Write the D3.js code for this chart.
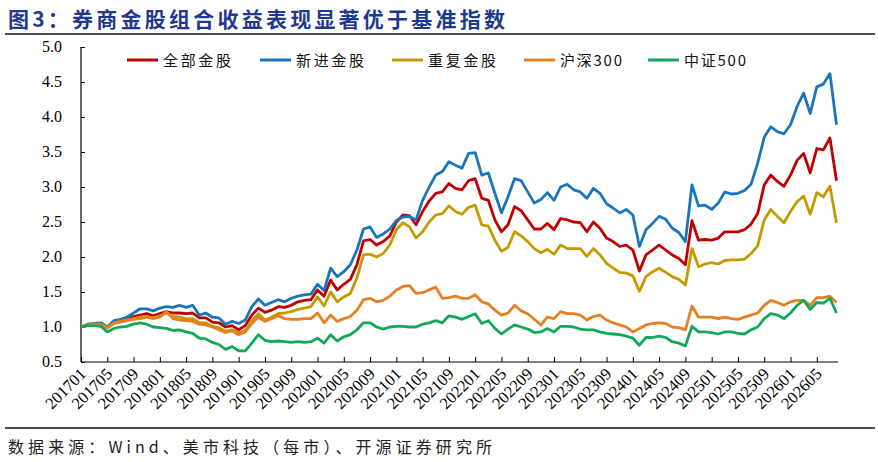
<!DOCTYPE html>
<html>
<head>
<meta charset="utf-8">
<script src="https://cdn.jsdelivr.net/npm/d3@7"></script>
<style>
  body { margin: 0; background: #fff; }
  svg { display: block; }
</style>
</head>
<body>
<div id="chart"></div>
<script>
// month labels 201701 .. 202608
const months = [];
for (let y = 2017; y <= 2026; y++) {
  for (let m = 1; m <= 12; m++) {
    if (y === 2026 && m > 8) break;
    months.push(y + String(m).padStart(2, "0"));
  }
}

const allPicks = [
  1.00,1.03,1.04,1.05,0.99,1.07,1.10,1.12,1.15,1.17,
  1.19,1.16,1.19,1.22,1.20,1.20,1.19,1.20,1.13,1.13,
  1.07,1.06,1.00,1.02,0.96,1.02,1.17,1.27,1.21,1.24,
  1.29,1.28,1.31,1.36,1.38,1.39,1.53,1.44,1.67,1.53,
  1.61,1.68,1.89,2.23,2.25,2.17,2.22,2.30,2.50,2.60,
  2.59,2.46,2.65,2.80,2.91,2.93,3.05,2.98,2.96,3.09,
  3.12,2.84,2.81,2.53,2.36,2.46,2.72,2.66,2.53,2.40,
  2.40,2.48,2.39,2.55,2.53,2.50,2.49,2.36,2.50,2.41,
  2.27,2.22,2.15,2.17,2.10,1.80,2.03,2.10,2.17,2.10,
  2.03,1.98,1.89,2.52,2.24,2.25,2.24,2.27,2.36,2.36,
  2.36,2.39,2.47,2.62,3.03,3.17,3.08,3.01,3.17,3.38,
  3.48,3.20,3.55,3.53,3.70,3.09
];

const newPicks = [
  1.00,1.04,1.05,1.06,1.00,1.09,1.11,1.14,1.20,1.26,
  1.26,1.23,1.27,1.29,1.28,1.31,1.28,1.31,1.17,1.20,
  1.14,1.13,1.04,1.08,1.05,1.10,1.29,1.40,1.31,1.35,
  1.39,1.36,1.41,1.44,1.46,1.47,1.61,1.52,1.84,1.72,
  1.79,1.89,2.10,2.40,2.43,2.28,2.33,2.40,2.52,2.57,
  2.58,2.53,2.81,3.00,3.17,3.22,3.36,3.31,3.27,3.48,
  3.49,3.17,3.20,2.91,2.63,2.86,3.12,3.09,2.93,2.77,
  2.82,2.92,2.81,3.00,3.04,2.96,2.93,2.84,2.98,2.91,
  2.76,2.70,2.63,2.68,2.60,2.15,2.39,2.48,2.58,2.54,
  2.41,2.35,2.22,3.03,2.73,2.74,2.68,2.77,2.93,2.90,
  2.91,2.95,3.04,3.34,3.71,3.86,3.79,3.76,3.89,4.15,
  4.34,4.05,4.43,4.47,4.62,3.89
];

const repeatPicks = [
  1.00,1.03,1.04,1.04,0.99,1.06,1.08,1.10,1.12,1.14,
  1.15,1.13,1.16,1.20,1.15,1.14,1.12,1.12,1.06,1.06,
  1.01,0.99,0.94,0.96,0.92,0.95,1.09,1.19,1.10,1.14,
  1.19,1.20,1.22,1.25,1.27,1.29,1.43,1.30,1.50,1.36,
  1.43,1.48,1.70,2.03,2.04,2.00,2.05,2.17,2.39,2.49,
  2.43,2.27,2.36,2.50,2.60,2.62,2.73,2.65,2.61,2.71,
  2.74,2.46,2.44,2.24,2.08,2.14,2.36,2.30,2.22,2.12,
  2.06,2.11,2.04,2.17,2.12,2.12,2.12,2.01,2.12,2.03,
  1.91,1.84,1.78,1.77,1.73,1.51,1.72,1.79,1.84,1.78,
  1.72,1.68,1.60,2.12,1.86,1.90,1.92,1.90,1.95,1.96,
  1.96,1.97,2.05,2.16,2.53,2.68,2.58,2.49,2.65,2.79,
  2.87,2.61,2.92,2.86,3.01,2.49
];

const hs300 = [
  1.00,1.02,1.03,1.03,0.99,1.05,1.07,1.09,1.11,1.12,
  1.14,1.12,1.14,1.22,1.12,1.10,1.09,1.08,1.04,1.03,
  1.00,0.96,0.92,0.95,0.89,0.93,1.05,1.14,1.08,1.12,
  1.16,1.12,1.11,1.11,1.12,1.12,1.20,1.06,1.17,1.08,
  1.12,1.15,1.24,1.39,1.41,1.36,1.38,1.44,1.53,1.58,
  1.59,1.48,1.49,1.53,1.57,1.41,1.42,1.44,1.41,1.41,
  1.46,1.36,1.33,1.24,1.17,1.20,1.31,1.23,1.19,1.11,
  1.03,1.14,1.12,1.22,1.19,1.19,1.17,1.10,1.15,1.17,
  1.10,1.06,1.03,1.00,0.93,0.98,1.03,1.05,1.06,1.05,
  1.00,0.99,0.96,1.30,1.14,1.14,1.14,1.12,1.14,1.12,
  1.11,1.14,1.17,1.20,1.31,1.38,1.35,1.31,1.36,1.38,
  1.38,1.31,1.42,1.42,1.44,1.35
];

const zz500 = [
  1.00,1.02,1.02,1.01,0.93,0.98,1.00,1.01,1.04,1.06,
  1.04,1.00,0.99,0.98,0.95,0.96,0.93,0.91,0.84,0.83,
  0.78,0.75,0.68,0.72,0.66,0.66,0.77,0.89,0.81,0.79,
  0.80,0.79,0.78,0.79,0.78,0.79,0.84,0.77,0.89,0.80,
  0.86,0.89,0.96,1.06,1.06,1.00,0.97,1.00,1.01,1.01,
  1.00,1.00,1.04,1.06,1.09,1.06,1.16,1.14,1.11,1.15,
  1.19,1.05,1.09,0.98,0.90,0.97,1.03,1.00,0.97,0.92,
  0.93,0.98,0.93,1.01,1.01,1.00,0.97,0.96,0.96,0.93,
  0.91,0.90,0.89,0.87,0.84,0.74,0.85,0.85,0.87,0.85,
  0.79,0.77,0.73,1.01,0.93,0.93,0.92,0.90,0.93,0.93,
  0.91,0.90,0.96,1.00,1.12,1.19,1.17,1.12,1.20,1.31,
  1.38,1.25,1.35,1.34,1.41,1.20
];

const seriesNames = ["全部金股", "新进金股", "重复金股", "沪深300", "中证500"];
const seriesColors = ["#C00000", "#1B75BC", "#C49A00", "#E67E22", "#12A85A"];
const seriesValues = [allPicks, newPicks, repeatPicks, hs300, zz500];
const yTicks = d3.range(0.5, 5.01, 0.5);

const width = 878, height = 462;
const svg = d3.select("#chart").append("svg")
  .attr("width", width)
  .attr("height", height);

svg.append("rect").attr("width", width).attr("height", height).attr("fill", "#fff");

// title + rules
svg.append("text")
  .attr("x", 8).attr("y", 27)
  .attr("font-family", "Noto Sans CJK SC")
  .attr("font-weight", 700)
  .attr("font-size", 21)
  .attr("fill", "#1F3A8C")
  .attr("textLength", 497)
  .attr("lengthAdjust", "spacing")
  .text("图3：券商金股组合收益表现显著优于基准指数");

svg.append("line").attr("x1", 5).attr("x2", 875).attr("y1", 34).attr("y2", 34)
  .attr("stroke", "#111").attr("stroke-width", 1.5);
svg.append("line").attr("x1", 5).attr("x2", 875).attr("y1", 428).attr("y2", 428)
  .attr("stroke", "#111").attr("stroke-width", 1.5);

svg.append("text")
  .attr("x", 8).attr("y", 453)
  .attr("font-family", "Noto Sans CJK SC")
  .attr("font-size", 16)
  .attr("fill", "#222")
  .attr("textLength", 484)
  .attr("lengthAdjust", "spacing")
  .text("数据来源：Wind、美市科技（每市）、开源证券研究所");

// scales
const x = d3.scaleLinear().domain([0, months.length - 1]).range([81, 836.5]);
const y = d3.scaleLinear().domain([0.5, 5.0]).range([362, 47]);

// y axis
const yAxis = svg.append("g").attr("transform", "translate(81,0)")
  .call(d3.axisRight(y).tickValues(yTicks).tickSize(4).tickFormat(""));
yAxis.select(".domain").attr("d", "M0,47V362").attr("stroke", "#000").attr("stroke-width", 1.2);
yAxis.selectAll(".tick line").attr("stroke", "#000");

svg.append("g").selectAll("text")
  .data(yTicks)
  .join("text")
  .attr("x", 62)
  .attr("y", d => y(d) + 5)
  .attr("text-anchor", "end")
  .attr("font-family", "Liberation Serif")
  .attr("font-size", 16)
  .attr("fill", "#000")
  .text(d => d.toFixed(1));

// x axis
const xTicks = d3.range(0, months.length, 4);
const xAxis = svg.append("g").attr("transform", "translate(0,362)")
  .call(d3.axisTop(x).tickValues(xTicks).tickSize(5).tickFormat(""));
xAxis.select(".domain").attr("d", "M81,0H838").attr("stroke", "#000").attr("stroke-width", 1.2);
xAxis.selectAll(".tick line").attr("stroke", "#000");

svg.append("g").selectAll("text")
  .data(xTicks)
  .join("text")
  .attr("transform", d => `translate(${x(d) + 6},375) rotate(-45)`)
  .attr("text-anchor", "end")
  .attr("font-family", "Liberation Serif")
  .attr("font-size", 16.5)
  .attr("fill", "#000")
  .text(d => months[d]);

// lines
const line = d3.line()
  .x((d, i) => x(i))
  .y(d => y(d));

svg.append("g").selectAll("path")
  .data(seriesValues)
  .join("path")
  .attr("d", line)
  .attr("fill", "none")
  .attr("stroke", (d, i) => seriesColors[i])
  .attr("stroke-width", 2.8)
  .attr("stroke-linejoin", "round");

// legend
const legendX = [127, 260, 392, 524, 648];
const legendW = [68, 68, 68, 62, 62];
const legend = svg.append("g").selectAll("g")
  .data(seriesNames)
  .join("g")
  .attr("transform", (d, i) => `translate(${legendX[i]},60)`);

legend.append("line")
  .attr("x1", 0).attr("x2", 31)
  .attr("stroke", (d, i) => seriesColors[i])
  .attr("stroke-width", 3);

legend.append("text")
  .attr("x", 36).attr("y", 6)
  .attr("font-family", "Noto Sans CJK SC")
  .attr("font-size", 15)
  .attr("fill", "#111")
  .attr("textLength", (d, i) => legendW[i])
  .attr("lengthAdjust", "spacing")
  .text(d => d);
</script>
</body>
</html>
